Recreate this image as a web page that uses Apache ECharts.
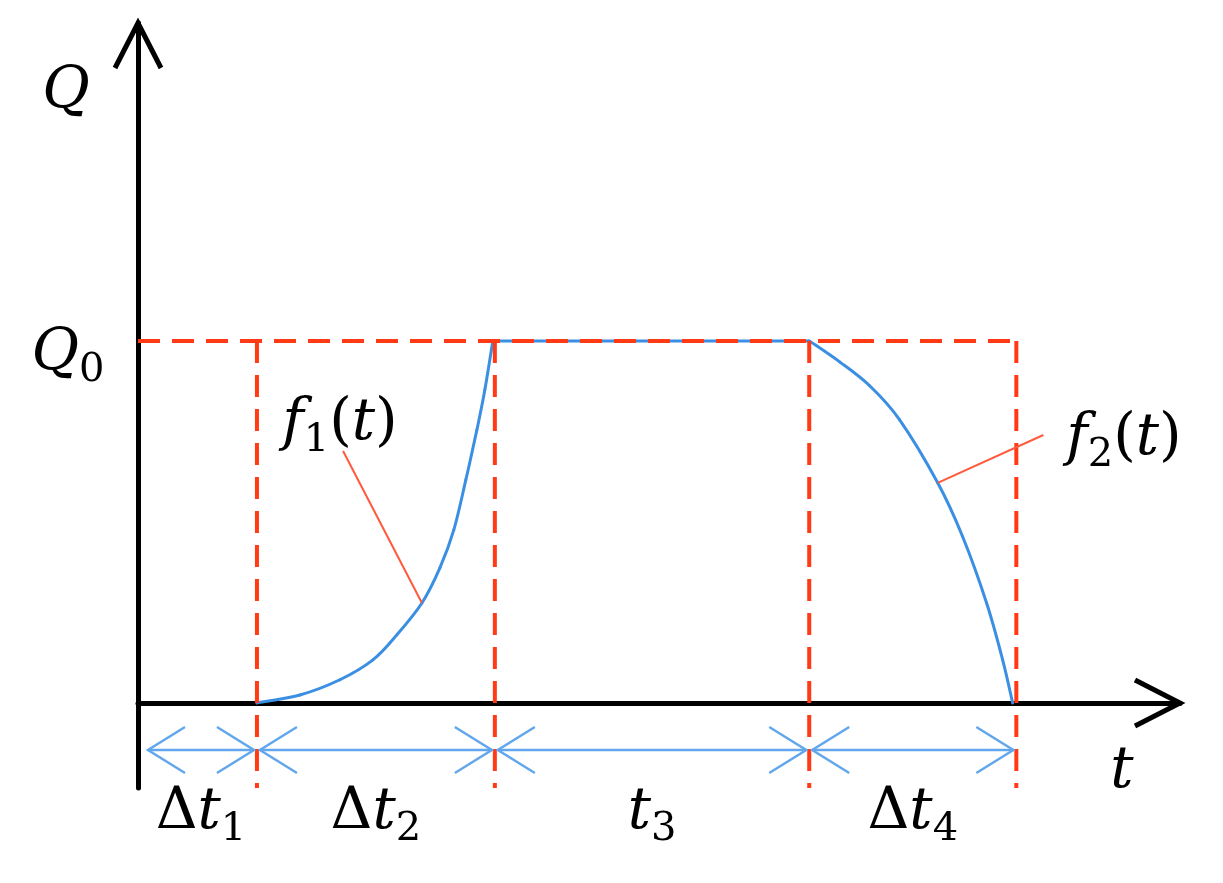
<!DOCTYPE html>
<html>
<head>
<meta charset="utf-8">
<script src="https://cdn.jsdelivr.net/npm/echarts@6/dist/echarts.min.js"></script>
<style>html,body{margin:0;padding:0;background:#fff}#c{width:1223px;height:883px}</style>
</head>
<body>
<div id="c"></div>
<script>
// ---------------- data ----------------
// phase boundaries on the t axis: origin, end of Δt1, Δt2, t3, Δt4
const phaseBounds = [0, 1.0, 3.0, 5.643, 7.384];
const phaseLabels = ['Δt1', 'Δt2', 't3', 'Δt4'];
const Q0 = 1.0;
// f1(t): rising part
const riseT = [1.0, 1.361, 1.697, 1.975, 2.176, 2.387, 2.538, 2.655, 2.756, 2.849, 2.916, 2.983];
const riseQ = [0, 0.022, 0.064, 0.119, 0.188, 0.276, 0.373, 0.478, 0.616, 0.754, 0.865, 1.0];
// constant part
const holdT = [3.0, 5.643];
const holdQ = [1.0, 1.0];
// f2(t): falling part
const fallT = [5.643, 5.899, 6.151, 6.403, 6.723, 6.933, 7.134, 7.269, 7.353];
const fallQ = [1.0, 0.942, 0.876, 0.782, 0.608, 0.459, 0.276, 0.119, 0];
// leader lines for the f1 / f2 annotations
const f1LeaderT = [1.724, 2.387];
const f1LeaderQ = [0.696, 0.276];
const f2LeaderT = [6.723, 7.611];
const f2LeaderQ = [0.608, 0.740];

// ---------------- layout / style ----------------
const T_MAX = 8.76, Q_MIN = -0.235, Q_MAX = 1.878;
const ARROW_Q = -0.13;
const RED = '#ff3a14', BLUE = '#3b8fe3', LBLUE = '#62a6ec', LEADER = '#ff5a3c';
const FONT = 'DejaVu Serif';
const FS = 58, SFS = 40, SUBPAD = 26;

const rich = {
  i: {fontFamily: FONT, fontStyle: 'italic', fontSize: FS, color: '#000', verticalAlign: 'top'},
  u: {fontFamily: FONT, fontSize: FS, color: '#000', verticalAlign: 'top'},
  s: {fontFamily: FONT, fontSize: SFS, color: '#000', verticalAlign: 'top', padding: [SUBPAD, 0, 0, 0]}
};
function richOf(lbl) {
  const m = lbl.match(/^(Δ?)([A-Za-z])(\d?)(.*)$/);
  let s = '';
  if (m[1]) s += '{u|' + m[1] + '}';
  s += '{i|' + m[2] + '}';
  if (m[3]) s += '{s|' + m[3] + '}';
  return s;
}
const pairs = (xs, ys) => xs.map((x, k) => [x, ys[k]]);
const curves = [pairs(riseT, riseQ), pairs(holdT, holdQ), pairs(fallT, fallQ)];

const series = [];
// blue curve: Catmull-Rom spline through the data points, positioned by the axes
series.push({
  type: 'custom', z: 2, silent: true,
  data: curves.map((c, k) => [k, 0]),
  renderItem(params, api) {
    const pts = curves[params.dataIndex].map(p => api.coord(p));
    const n = pts.length, children = [];
    for (let i = 0; i < n - 1; i++) {
      const p0 = pts[Math.max(i - 1, 0)], p1 = pts[i], p2 = pts[i + 1], p3 = pts[Math.min(i + 2, n - 1)];
      children.push({type: 'bezierCurve', shape: {
        x1: p1[0], y1: p1[1], x2: p2[0], y2: p2[1],
        cpx1: p1[0] + (p2[0] - p0[0]) / 6, cpy1: p1[1] + (p2[1] - p0[1]) / 6,
        cpx2: p2[0] - (p3[0] - p1[0]) / 6, cpy2: p2[1] - (p3[1] - p1[1]) / 6},
        style: {stroke: BLUE, lineWidth: 3, fill: null, lineCap: 'round'}});
    }
    return {type: 'group', children: children};
  }
});
// red dashed guides
const dashed = {color: RED, width: 4, type: [22, 12]};
series.push({type: 'line', data: [[phaseBounds[0], Q0], [phaseBounds[4], Q0]], symbol: 'none', lineStyle: dashed, z: 3});
phaseBounds.slice(1).forEach(b => {
  series.push({type: 'line', data: [[b, Q0], [b, Q_MIN]], symbol: 'none', lineStyle: dashed, z: 3});
});
// leaders
[[f1LeaderT, f1LeaderQ], [f2LeaderT, f2LeaderQ]].forEach(([xs, ys]) => {
  series.push({type: 'line', data: pairs(xs, ys), symbol: 'none', lineStyle: {color: LEADER, width: 2}, z: 4});
});
// axis arrowheads
series.push({
  type: 'custom', z: 5, silent: true,
  data: [[T_MAX, 0, 0], [0, Q_MAX, 90]],
  renderItem(params, api) {
    const p = api.coord([api.value(0), api.value(1)]);
    const a = api.value(2) * Math.PI / 180;
    const dx = Math.cos(a), dy = -Math.sin(a);
    const nx = -dy, ny = dx;
    const L = 45, W = 23;
    return {type: 'polyline', shape: {points: [
      [p[0] - dx * L + nx * W, p[1] - dy * L + ny * W], p,
      [p[0] - dx * L - nx * W, p[1] - dy * L - ny * W]]},
      style: {stroke: '#000', lineWidth: 5, fill: null, lineJoin: 'miter'}};
  }
});
// phase double arrows + labels
series.push({
  type: 'custom', z: 6, silent: true,
  data: phaseLabels.map((l, k) => [phaseBounds[k], phaseBounds[k + 1], k]),
  renderItem(params, api) {
    const k = api.value(2);
    const y = api.coord([0, ARROW_Q])[1];
    const x0 = api.coord([api.value(0), 0])[0] + (k === 0 ? 10 : 3);
    const x1 = api.coord([api.value(1), 0])[0] - 3;
    const L = 37, W = 23;
    const st = {stroke: LBLUE, lineWidth: 2.5, fill: null};
    return {type: 'group', children: [
      {type: 'line', shape: {x1: x0, y1: y, x2: x1, y2: y}, style: st},
      {type: 'polyline', shape: {points: [[x0 + L, y - W], [x0, y], [x0 + L, y + W]]}, style: st},
      {type: 'polyline', shape: {points: [[x1 - L, y - W], [x1, y], [x1 - L, y + W]]}, style: st},
      {type: 'text', x: (x0 + x1) / 2, y: y + 67,
        style: {text: richOf(phaseLabels[k]), rich: rich, align: 'center', verticalAlign: 'middle'}}
    ]};
  }
});

const option = {
  animation: false,
  backgroundColor: '#fff',
  grid: {left: 138, right: 43, top: 23, bottom: 95, containLabel: false},
  xAxis: {type: 'value', min: 0, max: T_MAX,
    axisLine: {show: true, onZero: true, lineStyle: {color: '#000', width: 5}},
    axisTick: {show: false}, axisLabel: {show: false}, splitLine: {show: false}},
  yAxis: {type: 'value', min: Q_MIN, max: Q_MAX,
    axisLine: {show: true, onZero: false, lineStyle: {color: '#000', width: 5}},
    axisTick: {show: false}, axisLabel: {show: false}, splitLine: {show: false}},
  graphic: [
    {type: 'text', x: 66, y: 92, style: {text: '{i|Q}', rich: rich, align: 'center', verticalAlign: 'middle'}},
    {type: 'text', x: 68, y: 358, style: {text: '{i|Q}{s|0}', rich: rich, align: 'center', verticalAlign: 'middle'}},
    {type: 'text', x: 1122, y: 772, style: {text: '{i|t}', rich: rich, align: 'center', verticalAlign: 'middle'}},
    {type: 'text', x: 340, y: 428, style: {text: '{i|f}{s|1}{u|(}{i|t}{u|)}', rich: rich, align: 'center', verticalAlign: 'middle'}},
    {type: 'text', x: 1124, y: 443, style: {text: '{i|f}{s|2}{u|(}{i|t}{u|)}', rich: rich, align: 'center', verticalAlign: 'middle'}}
  ],
  series: series
};
const chart = echarts.init(document.getElementById('c'), null, {renderer: 'canvas'});
chart.setOption(option);
</script>
</body>
</html>
